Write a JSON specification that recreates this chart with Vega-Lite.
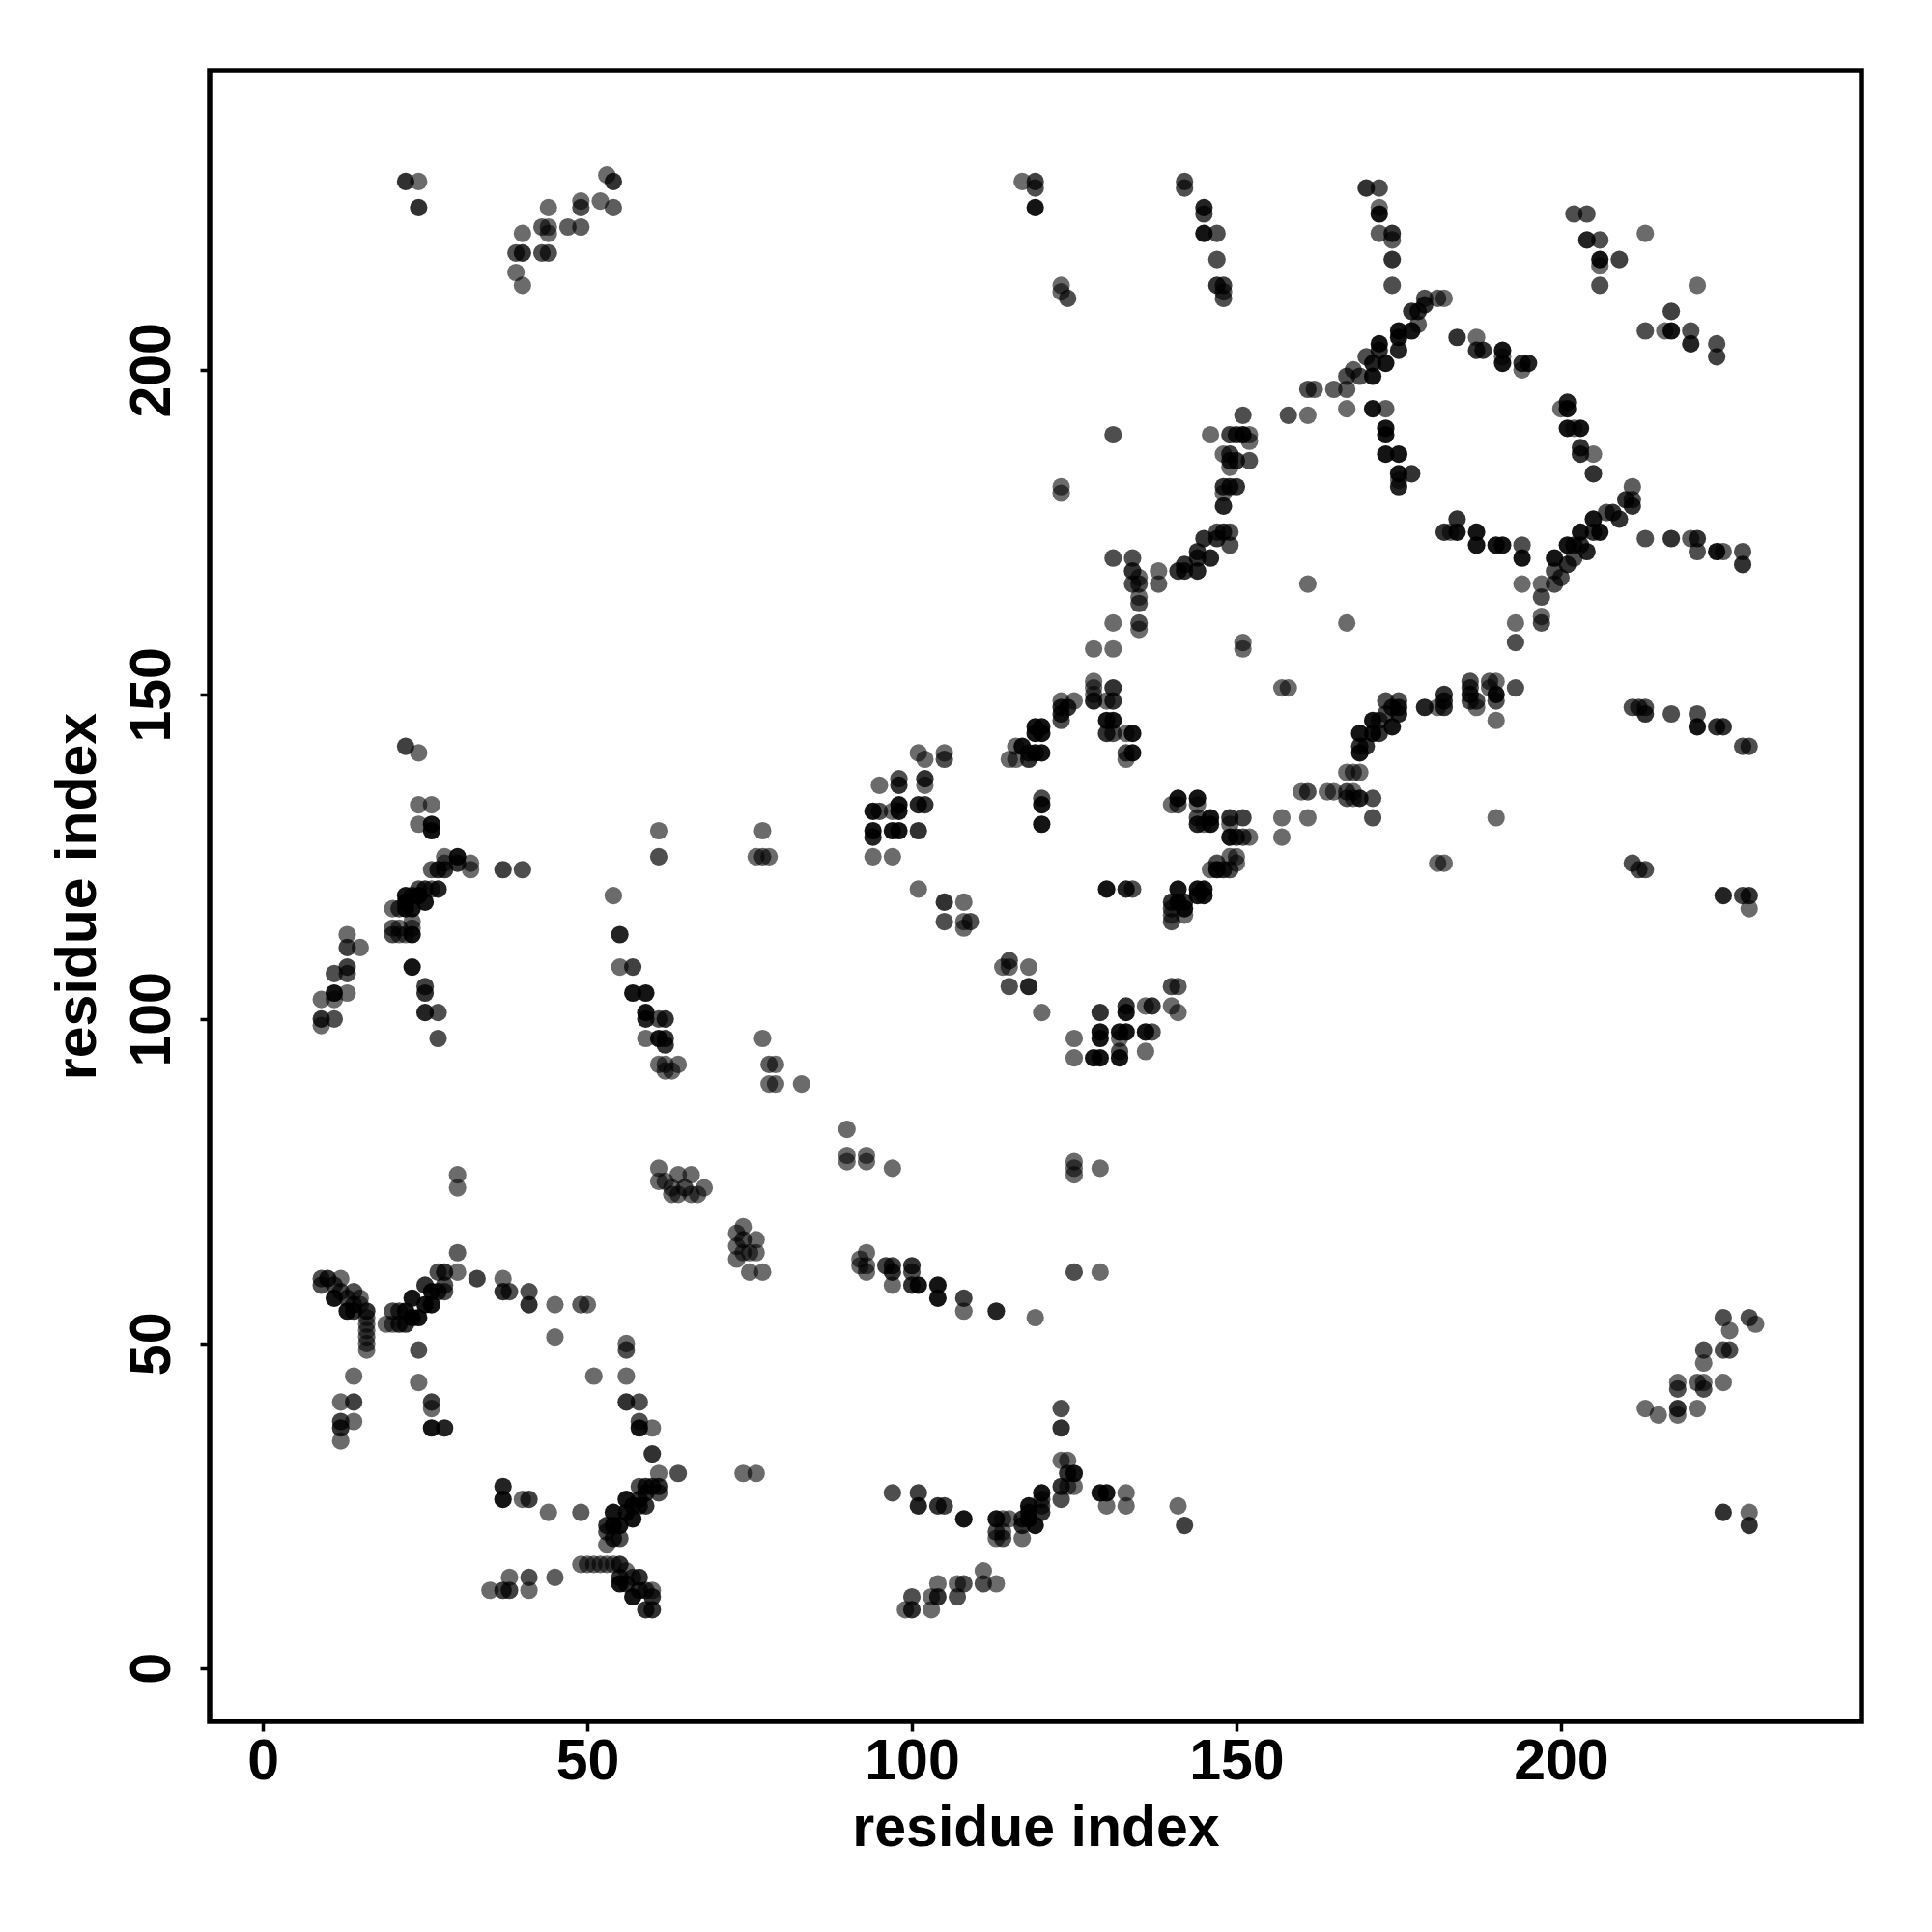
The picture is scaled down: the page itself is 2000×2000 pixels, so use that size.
{"$schema":"https://vega.github.io/schema/vega-lite/v6.json","width":1710,"height":1709,"autosize":"none","padding":{"left":217,"top":73,"right":73,"bottom":218},"background":"white",
"config":{"view":{"stroke":"black","strokeWidth":5.5},"font":"Liberation Sans"},
"data":{"values":[
{"i":30,"j":76,"n":1},{"i":30,"j":74,"n":1},{"i":30,"j":64,"n":1.5},{"i":30,"j":61,"n":1},{"i":33,"j":60,"n":2.5},{"i":37,"j":60,"n":1},{"i":37,"j":58,"n":3},{"i":38,"j":58,"n":2},{"i":41,"j":58,"n":2},{"i":41,"j":56,"n":3},{"i":45,"j":56,"n":1},{"i":49,"j":56,"n":1.5},{"i":50,"j":56,"n":1},{"i":45,"j":51,"n":1},{"i":56,"j":50,"n":1},{"i":56,"j":49,"n":2},{"i":51,"j":45,"n":1},{"i":56,"j":45,"n":1},{"i":56,"j":41,"n":3},{"i":58,"j":41,"n":2},{"i":58,"j":38,"n":2},{"i":58,"j":37,"n":4},{"i":60,"j":37,"n":1},{"i":60,"j":33,"n":3},{"i":61,"j":30,"n":1},{"i":64,"j":30,"n":2},{"i":74,"j":30,"n":1},{"i":76,"j":30,"n":1},
{"i":9,"j":60,"n":2},{"i":9,"j":59,"n":2},{"i":10,"j":60,"n":3},{"i":11,"j":59,"n":2},{"i":11,"j":57,"n":4},{"i":12,"j":60,"n":1},{"i":12,"j":58,"n":2},{"i":13,"j":57,"n":2},{"i":13,"j":55,"n":4},{"i":14,"j":58,"n":2},{"i":14,"j":56,"n":2},{"i":14,"j":55,"n":3},{"i":15,"j":56,"n":1},{"i":15,"j":57,"n":1},{"i":16,"j":55,"n":3},{"i":16,"j":54,"n":1},{"i":16,"j":53,"n":1},{"i":16,"j":52,"n":1},{"i":16,"j":51,"n":1},{"i":16,"j":50,"n":1},{"i":16,"j":49,"n":1},
{"i":19,"j":53,"n":1},{"i":20,"j":55,"n":2},{"i":20,"j":53,"n":1},{"i":21,"j":55,"n":2},{"i":21,"j":53,"n":3},{"i":22,"j":53,"n":3},{"i":22,"j":55,"n":4},{"i":23,"j":57,"n":4},{"i":23,"j":54,"n":4},{"i":24,"j":54,"n":4},{"i":25,"j":59,"n":3},{"i":25,"j":56,"n":4},{"i":26,"j":56,"n":4},{"i":26,"j":58,"n":4},{"i":27,"j":61,"n":2},{"i":27,"j":58,"n":3},{"i":28,"j":61,"n":3},{"i":28,"j":58,"n":2},{"i":28,"j":59,"n":2},
{"i":24,"j":49,"n":2},{"i":24,"j":44,"n":1},{"i":26,"j":41,"n":2.5},{"i":26,"j":40,"n":1},{"i":26,"j":37,"n":4},{"i":28,"j":37,"n":3.5},{"i":14,"j":45,"n":1},{"i":12,"j":41,"n":1},{"i":14,"j":41,"n":2.5},{"i":12,"j":38,"n":2.5},{"i":14,"j":38,"n":1},{"i":12,"j":37,"n":3},{"i":12,"j":35,"n":1},
{"i":61,"j":77,"n":1},{"i":61,"j":75,"n":1},{"i":64,"j":76,"n":1},{"i":66,"j":76,"n":1},{"i":63,"j":73,"n":1},{"i":64,"j":73,"n":1},{"i":65,"j":74,"n":2},{"i":66,"j":73,"n":1},{"i":67,"j":73,"n":1},{"i":68,"j":74,"n":1},{"i":62,"j":75,"n":1},{"i":63,"j":74,"n":1},
{"i":74,"j":68,"n":1},{"i":73,"j":67,"n":1},{"i":73,"j":65,"n":1},{"i":73,"j":63,"n":1},{"i":74,"j":66,"n":2},{"i":76,"j":66,"n":1},{"i":76,"j":64,"n":1},{"i":75,"j":64,"n":1},{"i":75,"j":61,"n":1},{"i":77,"j":61,"n":1},{"i":74,"j":64,"n":1},
{"i":37,"j":28,"n":3.5},{"i":37,"j":26,"n":4},{"i":40,"j":26,"n":1},{"i":41,"j":26,"n":2.5},{"i":44,"j":24,"n":1},{"i":49,"j":24,"n":1.5},
{"i":53,"j":19,"n":1},{"i":53,"j":21,"n":2},{"i":53,"j":22,"n":3},{"i":54,"j":20,"n":3},{"i":54,"j":24,"n":4},{"i":54,"j":22,"n":4},{"i":55,"j":20,"n":2},{"i":55,"j":22,"n":4},{"i":56,"j":26,"n":4},{"i":56,"j":24,"n":4},{"i":57,"j":23,"n":4},{"i":57,"j":25,"n":3},{"i":58,"j":28,"n":2},{"i":58,"j":26,"n":3},{"i":59,"j":28,"n":3},{"i":59,"j":25,"n":3},{"i":61,"j":28,"n":3},{"i":61,"j":27,"n":2},{"i":60,"j":28,"n":3},{"i":59,"j":27,"n":3},{"i":58,"j":25,"n":3},
{"i":49,"j":16,"n":1},{"i":50,"j":16,"n":1},{"i":51,"j":16,"n":1},{"i":52,"j":16,"n":1},{"i":53,"j":16,"n":1},{"i":54,"j":16,"n":1},{"i":55,"j":16,"n":3},{"i":55,"j":13,"n":4},{"i":56,"j":15,"n":1},{"i":57,"j":14,"n":2},{"i":57,"j":11,"n":4},{"i":58,"j":14,"n":3},{"i":58,"j":12,"n":3},{"i":59,"j":12,"n":2},{"i":59,"j":9,"n":3},{"i":60,"j":12,"n":1},{"i":60,"j":11,"n":3},{"i":60,"j":9,"n":3},{"i":55,"j":14,"n":3},{"i":56,"j":13,"n":3},
{"i":35,"j":12,"n":1},{"i":37,"j":12,"n":2.5},{"i":38,"j":14,"n":1},{"i":38,"j":12,"n":2.5},{"i":41,"j":14,"n":2},{"i":41,"j":12,"n":1},{"i":45,"j":14,"n":1.5},
{"i":90,"j":83,"n":1},{"i":90,"j":79,"n":1},{"i":90,"j":78,"n":1},{"i":93,"j":79,"n":1},{"i":93,"j":78,"n":1},{"i":97,"j":77,"n":1},{"i":125,"j":78,"n":1},{"i":125,"j":77,"n":1},{"i":125,"j":76,"n":1},{"i":129,"j":77,"n":1},
{"i":93,"j":64,"n":1},{"i":92,"j":63,"n":1},{"i":92,"j":62,"n":1},{"i":93,"j":62,"n":1},{"i":93,"j":61,"n":1},{"i":96,"j":62,"n":2.5},{"i":97,"j":62,"n":2.5},{"i":97,"j":61,"n":3},{"i":97,"j":59,"n":1},{"i":100,"j":62,"n":3},{"i":100,"j":61,"n":2},{"i":100,"j":59,"n":3},{"i":101,"j":59,"n":4},{"i":104,"j":59,"n":4},{"i":104,"j":57,"n":4},{"i":108,"j":57,"n":2.5},{"i":108,"j":55,"n":1},{"i":113,"j":55,"n":3.5},{"i":119,"j":54,"n":1},{"i":125,"j":61,"n":2},{"i":129,"j":61,"n":1},
{"i":123,"j":40,"n":2},{"i":123,"j":37,"n":3},{"i":123,"j":32,"n":1},{"i":124,"j":32,"n":1},{"i":125,"j":30,"n":4},{"i":124,"j":30,"n":3},{"i":123,"j":28,"n":3},{"i":124,"j":28,"n":1},{"i":125,"j":28,"n":1},{"i":123,"j":26,"n":2},{"i":120,"j":27,"n":4},{"i":120,"j":26,"n":2},{"i":120,"j":24,"n":3},{"i":120,"j":25,"n":2},{"i":118,"j":25,"n":4},{"i":118,"j":23,"n":4},{"i":119,"j":22,"n":4},{"i":117,"j":23,"n":3},{"i":117,"j":22,"n":3},{"i":117,"j":20,"n":1},{"i":118,"j":24,"n":3},{"i":113,"j":23,"n":4},{"i":113,"j":20,"n":1},{"i":113,"j":21,"n":2},{"i":114,"j":20,"n":2},{"i":114,"j":23,"n":1},{"i":115,"j":23,"n":1},{"i":114,"j":21,"n":1},
{"i":97,"j":27,"n":2},{"i":101,"j":27,"n":2.5},{"i":101,"j":25,"n":3.5},{"i":104,"j":25,"n":3},{"i":105,"j":25,"n":2.5},{"i":108,"j":23,"n":4},{"i":129,"j":27,"n":4},{"i":130,"j":27,"n":4},{"i":133,"j":27,"n":1},{"i":130,"j":25,"n":1},{"i":133,"j":25,"n":1},{"i":141,"j":25,"n":1},{"i":142,"j":22,"n":2.5},
{"i":111,"j":15,"n":1},{"i":111,"j":13,"n":2},{"i":113,"j":13,"n":1},{"i":107,"j":13,"n":1},{"i":108,"j":13,"n":2},{"i":107,"j":11,"n":2},{"i":104,"j":13,"n":1},{"i":104,"j":11,"n":3},{"i":103,"j":11,"n":1},{"i":103,"j":9,"n":1},{"i":100,"j":11,"n":2},{"i":100,"j":9,"n":3},{"i":99,"j":9,"n":1},
{"i":22,"j":142,"n":2.5},{"i":24,"j":141,"n":1},{"i":24,"j":133,"n":1},{"i":26,"j":133,"n":1},{"i":24,"j":130,"n":1},{"i":26,"j":130,"n":4},{"i":26,"j":129,"n":4},{"i":28,"j":125,"n":1},{"i":30,"j":125,"n":4},{"i":32,"j":124,"n":1},{"i":32,"j":123,"n":1},{"i":30,"j":124,"n":3},{"i":28,"j":124,"n":1},{"i":26,"j":123,"n":1.5},{"i":27,"j":123,"n":3},{"i":28,"j":123,"n":3},{"i":37,"j":123,"n":2.5},{"i":40,"j":123,"n":2},
{"i":27,"j":120,"n":3.5},{"i":26,"j":120,"n":1.5},{"i":25,"j":120,"n":3},{"i":24,"j":120,"n":2},{"i":25,"j":118,"n":4},{"i":24,"j":119,"n":4},{"i":23,"j":119,"n":3},{"i":22,"j":119,"n":4},{"i":22,"j":118,"n":4},{"i":22,"j":117,"n":4},{"i":23,"j":117,"n":4},{"i":20,"j":117,"n":1},{"i":21,"j":117,"n":2},{"i":20,"j":114,"n":1.5},{"i":20,"j":113,"n":2},{"i":21,"j":113,"n":1},{"i":21,"j":114,"n":1},{"i":23,"j":115,"n":1},{"i":23,"j":114,"n":1},{"i":23,"j":113,"n":4},{"i":22,"j":113,"n":1},
{"i":13,"j":113,"n":1},{"i":13,"j":111,"n":2.5},{"i":15,"j":111,"n":1},{"i":13,"j":108,"n":2.5},{"i":13,"j":107,"n":2},{"i":11,"j":107,"n":2},{"i":11,"j":104,"n":4},{"i":13,"j":104,"n":1},{"i":9,"j":103,"n":1},{"i":11,"j":103,"n":1},{"i":9,"j":100,"n":3},{"i":11,"j":100,"n":2},{"i":9,"j":99,"n":1},
{"i":23,"j":108,"n":4},{"i":25,"j":105,"n":2.5},{"i":25,"j":104,"n":3},{"i":25,"j":101,"n":3.5},{"i":27,"j":101,"n":2},{"i":27,"j":97,"n":2},
{"i":54,"j":119,"n":1},{"i":55,"j":113,"n":3.5},{"i":55,"j":108,"n":1},{"i":57,"j":108,"n":2.5},{"i":57,"j":104,"n":4},{"i":59,"j":104,"n":4},{"i":59,"j":101,"n":4},{"i":59,"j":100,"n":3.5},{"i":61,"j":100,"n":2},{"i":62,"j":100,"n":3},{"i":59,"j":97,"n":1},{"i":61,"j":97,"n":4},{"i":62,"j":97,"n":3},{"i":62,"j":96,"n":3},{"i":61,"j":93,"n":1},{"i":62,"j":93,"n":1},{"i":64,"j":93,"n":1},{"i":62,"j":92,"n":1},{"i":63,"j":92,"n":1},
{"i":61,"j":129,"n":1},{"i":61,"j":125,"n":2},{"i":77,"j":129,"n":1},{"i":76,"j":125,"n":1},{"i":77,"j":125,"n":1.5},{"i":78,"j":125,"n":1},{"i":77,"j":97,"n":1},{"i":78,"j":93,"n":1.5},{"i":79,"j":93,"n":1},{"i":78,"j":90,"n":1},{"i":79,"j":90,"n":1},{"i":83,"j":90,"n":1},
{"i":101,"j":141,"n":1},{"i":102,"j":140,"n":1},{"i":105,"j":141,"n":1},{"i":105,"j":140,"n":2},{"i":95,"j":136,"n":1},{"i":98,"j":137,"n":2},{"i":98,"j":136,"n":3},{"i":102,"j":137,"n":3},{"i":102,"j":136,"n":1},{"i":94,"j":132,"n":4},{"i":95,"j":132,"n":2},{"i":97,"j":132,"n":1},{"i":98,"j":133,"n":4},{"i":98,"j":132,"n":4},{"i":101,"j":133,"n":3.5},{"i":102,"j":133,"n":3},{"i":94,"j":129,"n":4},{"i":94,"j":128,"n":3.5},{"i":97,"j":129,"n":4},{"i":98,"j":129,"n":4},{"i":101,"j":129,"n":3},{"i":94,"j":125,"n":1},{"i":97,"j":125,"n":1},
{"i":101,"j":120,"n":1},{"i":105,"j":118,"n":3},{"i":108,"j":118,"n":1},{"i":105,"j":115,"n":2},{"i":108,"j":115,"n":1},{"i":109,"j":115,"n":2},{"i":108,"j":114,"n":1},{"i":115,"j":109,"n":2},{"i":114,"j":108,"n":1},{"i":115,"j":108,"n":1},{"i":118,"j":108,"n":1},{"i":115,"j":105,"n":2},{"i":118,"j":105,"n":3.5},{"i":120,"j":101,"n":1},{"i":120,"j":134,"n":2},{"i":120,"j":133,"n":4},{"i":120,"j":130,"n":4},
{"i":115,"j":140,"n":1},{"i":116,"j":142,"n":1},{"i":116,"j":140,"n":1},{"i":117,"j":142,"n":4},{"i":118,"j":140,"n":3},{"i":119,"j":145,"n":4},{"i":120,"j":145,"n":4},{"i":119,"j":144,"n":4},{"i":120,"j":144,"n":4},{"i":119,"j":141,"n":4},{"i":120,"j":141,"n":4},{"i":118,"j":141,"n":3},{"i":123,"j":146,"n":2},{"i":123,"j":147,"n":3},{"i":123,"j":148,"n":3},{"i":124,"j":148,"n":3},{"i":125,"j":149,"n":1},{"i":123,"j":149,"n":1},{"i":128,"j":149,"n":3.5},{"i":131,"j":149,"n":3},{"i":130,"j":149,"n":1},{"i":128,"j":150,"n":1},{"i":128,"j":151,"n":1},{"i":128,"j":152,"n":1},{"i":131,"j":151,"n":3},{"i":128,"j":157,"n":1},{"i":131,"j":157,"n":1},{"i":131,"j":161,"n":1},
{"i":130,"j":146,"n":4},{"i":131,"j":146,"n":4},{"i":130,"j":144,"n":3},{"i":131,"j":144,"n":2},{"i":133,"j":144,"n":1},{"i":134,"j":144,"n":4},{"i":133,"j":141,"n":2},{"i":134,"j":141,"n":4},{"i":133,"j":140,"n":1},{"i":130,"j":120,"n":4},{"i":133,"j":120,"n":3.5},{"i":134,"j":120,"n":2},
{"i":141,"j":134,"n":4},{"i":140,"j":133,"n":1},{"i":141,"j":133,"n":2},{"i":144,"j":134,"n":4},{"i":144,"j":133,"n":1},{"i":144,"j":131,"n":2},{"i":144,"j":130,"n":3.5},{"i":145,"j":130,"n":1},{"i":146,"j":131,"n":4},{"i":146,"j":130,"n":4},{"i":149,"j":131,"n":3},{"i":151,"j":131,"n":2.5},{"i":149,"j":130,"n":1},{"i":149,"j":128,"n":4},{"i":150,"j":128,"n":3},{"i":151,"j":128,"n":2},{"i":152,"j":128,"n":1},{"i":150,"j":125,"n":1},{"i":149,"j":125,"n":1},{"i":150,"j":124,"n":1},{"i":149,"j":123,"n":2},{"i":148,"j":123,"n":3},{"i":147,"j":124,"n":2},{"i":147,"j":123,"n":4},{"i":146,"j":123,"n":1},
{"i":141,"j":120,"n":4},{"i":144,"j":120,"n":4},{"i":145,"j":120,"n":4},{"i":144,"j":119,"n":4},{"i":145,"j":119,"n":4},{"i":140,"j":118,"n":3},{"i":141,"j":118,"n":4},{"i":142,"j":118,"n":3},{"i":142,"j":117,"n":4},{"i":140,"j":117,"n":2},{"i":142,"j":116,"n":1},{"i":140,"j":116,"n":1},{"i":140,"j":115,"n":2},
{"i":157,"j":131,"n":1},{"i":161,"j":131,"n":1},{"i":157,"j":128,"n":1},{"i":160,"j":135,"n":1},{"i":161,"j":135,"n":2},{"i":164,"j":135,"n":1},{"i":165,"j":135,"n":1},{"i":167,"j":135,"n":2},{"i":168,"j":135,"n":1},{"i":167,"j":134,"n":2},{"i":168,"j":134,"n":1},{"i":169,"j":134,"n":3.5},{"i":171,"j":134,"n":2},{"i":171,"j":131,"n":2},{"i":167,"j":138,"n":1},{"i":168,"j":138,"n":1},{"i":169,"j":138,"n":1},
{"i":140,"j":105,"n":2},{"i":141,"j":105,"n":1.5},{"i":140,"j":102,"n":1},{"i":141,"j":101,"n":1},{"i":137,"j":102,"n":3},{"i":136,"j":102,"n":1},{"i":133,"j":102,"n":3},{"i":133,"j":101,"n":4},{"i":129,"j":101,"n":3},{"i":129,"j":98,"n":4},{"i":129,"j":97,"n":4},{"i":132,"j":98,"n":4},{"i":133,"j":98,"n":4},{"i":132,"j":97,"n":1},{"i":136,"j":98,"n":4},{"i":137,"j":98,"n":2},{"i":125,"j":97,"n":1},{"i":125,"j":94,"n":1},{"i":128,"j":94,"n":4},{"i":129,"j":94,"n":4},{"i":132,"j":95,"n":2},{"i":132,"j":94,"n":4},{"i":136,"j":95,"n":1},
{"i":151,"j":193,"n":2},{"i":158,"j":193,"n":2},{"i":161,"j":193,"n":1},{"i":161,"j":197,"n":2},{"i":162,"j":197,"n":1.5},{"i":165,"j":197,"n":1.5},{"i":167,"j":197,"n":1.5},{"i":167,"j":194,"n":1},{"i":171,"j":194,"n":4},{"i":173,"j":194,"n":1.5},{"i":173,"j":191,"n":4},{"i":173,"j":190,"n":4},{"i":173,"j":187,"n":4},{"i":175,"j":187,"n":4},{"i":175,"j":184,"n":4},{"i":177,"j":184,"n":3},{"i":175,"j":183,"n":1},{"i":175,"j":182,"n":3.5},
{"i":131,"j":190,"n":2},{"i":146,"j":190,"n":1},{"i":149,"j":190,"n":2.5},{"i":150,"j":190,"n":3},{"i":151,"j":190,"n":4},{"i":152,"j":190,"n":1},{"i":152,"j":189,"n":1},{"i":148,"j":187,"n":1},{"i":149,"j":187,"n":2.5},{"i":149,"j":186,"n":3},{"i":150,"j":186,"n":3},{"i":152,"j":186,"n":2},{"i":149,"j":185,"n":1},{"i":148,"j":182,"n":3},{"i":149,"j":182,"n":3},{"i":150,"j":182,"n":3},{"i":148,"j":181,"n":1},{"i":148,"j":179,"n":3.5},
{"i":147,"j":175,"n":2},{"i":148,"j":175,"n":3},{"i":149,"j":175,"n":2},{"i":149,"j":173,"n":2},{"i":147,"j":174,"n":3},{"i":145,"j":174,"n":3},{"i":146,"j":171,"n":3.5},{"i":144,"j":172,"n":3},{"i":144,"j":171,"n":3},{"i":142,"j":170,"n":3},{"i":144,"j":169,"n":3.5},{"i":142,"j":169,"n":3},{"i":141,"j":169,"n":3},
{"i":134,"j":171,"n":2},{"i":134,"j":169,"n":3},{"i":135,"j":168,"n":1},{"i":134,"j":167,"n":2},{"i":135,"j":167,"n":2},{"i":135,"j":165,"n":1},{"i":135,"j":164,"n":2},{"i":135,"j":161,"n":2},{"i":135,"j":160,"n":1},{"i":138,"j":169,"n":1},{"i":138,"j":167,"n":1.5},{"i":131,"j":171,"n":2},{"i":151,"j":158,"n":1},{"i":151,"j":157,"n":1},{"i":161,"j":167,"n":1},{"i":167,"j":161,"n":1},{"i":123,"j":182,"n":1},{"i":123,"j":181,"n":1},
{"i":194,"j":167,"n":1},{"i":197,"j":167,"n":1},{"i":197,"j":165,"n":2},{"i":193,"j":161,"n":1},{"i":197,"j":162,"n":1},{"i":197,"j":161,"n":2},{"i":193,"j":158,"n":2},{"i":199,"j":167,"n":2},{"i":199,"j":171,"n":4},{"i":199,"j":169,"n":2},{"i":200,"j":168,"n":2},{"i":201,"j":173,"n":4},{"i":201,"j":170,"n":3},{"i":202,"j":171,"n":2},{"i":203,"j":175,"n":4},{"i":204,"j":172,"n":3.5},{"i":205,"j":177,"n":4},{"i":206,"j":175,"n":4},{"i":207,"j":178,"n":2},{"i":208,"j":178,"n":3},{"i":209,"j":177,"n":3},{"i":210,"j":180,"n":3},{"i":211,"j":179,"n":3},{"i":211,"j":182,"n":1.5},{"i":211,"j":180,"n":2},{"i":203,"j":173,"n":3},{"i":202,"j":173,"n":3},{"i":205,"j":175,"n":3},
{"i":201,"j":195,"n":3.5},{"i":201,"j":194,"n":4},{"i":200,"j":194,"n":1},{"i":201,"j":191,"n":4},{"i":202,"j":191,"n":1},{"i":203,"j":191,"n":4},{"i":203,"j":188,"n":3},{"i":203,"j":187,"n":3},{"i":205,"j":187,"n":1},{"i":205,"j":184,"n":3},
{"i":182,"j":175,"n":3},{"i":183,"j":175,"n":1},{"i":184,"j":177,"n":3},{"i":184,"j":175,"n":4},{"i":187,"j":175,"n":4},{"i":187,"j":173,"n":4},{"i":190,"j":173,"n":4},{"i":191,"j":173,"n":4},{"i":194,"j":173,"n":2},{"i":194,"j":171,"n":4},{"i":213,"j":174,"n":2},{"i":217,"j":174,"n":3},{"i":220,"j":174,"n":1.5},{"i":221,"j":174,"n":3},{"i":221,"j":172,"n":2},{"i":224,"j":172,"n":4},{"i":225,"j":172,"n":1.5},{"i":228,"j":172,"n":2},{"i":228,"j":170,"n":3},
{"i":157,"j":151,"n":1},{"i":158,"j":151,"n":1},{"i":186,"j":152,"n":2},{"i":186,"j":151,"n":2},{"i":186,"j":150,"n":3},{"i":186,"j":149,"n":2},{"i":187,"j":149,"n":2},{"i":187,"j":148,"n":1},{"i":189,"j":152,"n":1.5},{"i":190,"j":152,"n":1},{"i":190,"j":150,"n":4},{"i":190,"j":149,"n":2},{"i":189,"j":151,"n":1},{"i":193,"j":151,"n":2},{"i":190,"j":146,"n":1},{"i":182,"j":150,"n":3},{"i":182,"j":149,"n":3},{"i":182,"j":148,"n":3},{"i":179,"j":148,"n":3.5},{"i":181,"j":148,"n":1},
{"i":173,"j":149,"n":2},{"i":175,"j":149,"n":2},{"i":175,"j":148,"n":3},{"i":174,"j":148,"n":3},{"i":173,"j":147,"n":2},{"i":175,"j":147,"n":3.5},{"i":174,"j":145,"n":4},{"i":172,"j":146,"n":2},{"i":171,"j":146,"n":4},{"i":171,"j":144,"n":4},{"i":172,"j":144,"n":3},{"i":169,"j":144,"n":4},{"i":169,"j":142,"n":3},{"i":170,"j":142,"n":3},{"i":169,"j":141,"n":4},
{"i":211,"j":148,"n":2},{"i":212,"j":148,"n":2},{"i":213,"j":148,"n":2},{"i":213,"j":147,"n":3},{"i":217,"j":147,"n":2},{"i":221,"j":147,"n":2},{"i":221,"j":145,"n":4},{"i":224,"j":145,"n":3},{"i":225,"j":145,"n":3},{"i":228,"j":142,"n":2},{"i":229,"j":142,"n":2},{"i":190,"j":131,"n":1},{"i":181,"j":124,"n":1},{"i":182,"j":124,"n":1},{"i":211,"j":124,"n":2},{"i":212,"j":123,"n":2},{"i":213,"j":123,"n":2},{"i":225,"j":119,"n":3.5},{"i":228,"j":119,"n":2.5},{"i":229,"j":119,"n":3},{"i":229,"j":117,"n":1},
{"i":213,"j":40,"n":1},{"i":215,"j":39,"n":1},{"i":218,"j":39,"n":1},{"i":218,"j":43,"n":2},{"i":218,"j":44,"n":1},{"i":218,"j":40,"n":3},{"i":221,"j":40,"n":1},{"i":221,"j":44,"n":1.5},{"i":222,"j":44,"n":1},{"i":222,"j":43,"n":2},{"i":222,"j":47,"n":1},{"i":222,"j":49,"n":2},{"i":225,"j":44,"n":1},{"i":225,"j":49,"n":2},{"i":226,"j":49,"n":2},{"i":226,"j":52,"n":1},{"i":225,"j":54,"n":2},{"i":229,"j":54,"n":2},{"i":230,"j":53,"n":1},{"i":225,"j":24,"n":3},{"i":229,"j":24,"n":1},{"i":229,"j":22,"n":3},
{"i":22,"j":229,"n":3},{"i":24,"j":229,"n":1},{"i":24,"j":225,"n":3},{"i":39,"j":215,"n":1},{"i":40,"j":213,"n":1},{"i":39,"j":218,"n":2},{"i":40,"j":218,"n":3},{"i":40,"j":221,"n":1},{"i":43,"j":218,"n":2},{"i":44,"j":218,"n":2},{"i":43,"j":222,"n":1.5},{"i":44,"j":221,"n":1},{"i":44,"j":222,"n":1},{"i":44,"j":225,"n":1},{"i":47,"j":222,"n":1.5},{"i":49,"j":222,"n":1.5},{"i":49,"j":225,"n":2},{"i":49,"j":226,"n":1},{"i":52,"j":226,"n":1},{"i":53,"j":230,"n":1},{"i":54,"j":229,"n":3},{"i":54,"j":225,"n":1.5},
{"i":117,"j":229,"n":1},{"i":119,"j":229,"n":2.5},{"i":119,"j":228,"n":2},{"i":119,"j":225,"n":4},{"i":123,"j":213,"n":1},{"i":123,"j":212,"n":1},{"i":124,"j":211,"n":2},{"i":142,"j":229,"n":2},{"i":142,"j":228,"n":2},{"i":145,"j":225,"n":3.5},{"i":145,"j":224,"n":2.5},{"i":145,"j":221,"n":4},{"i":147,"j":221,"n":2},{"i":147,"j":217,"n":2},{"i":147,"j":213,"n":3},{"i":148,"j":213,"n":2.5},{"i":148,"j":212,"n":1.5},{"i":148,"j":211,"n":2},
{"i":170,"j":228,"n":3},{"i":172,"j":228,"n":2},{"i":172,"j":225,"n":1},{"i":172,"j":224,"n":4},{"i":172,"j":221,"n":1.5},{"i":174,"j":221,"n":3},{"i":174,"j":220,"n":1.5},{"i":174,"j":217,"n":3},{"i":174,"j":213,"n":2},
{"i":202,"j":224,"n":2},{"i":204,"j":224,"n":2},{"i":204,"j":220,"n":3.5},{"i":206,"j":220,"n":2},{"i":206,"j":217,"n":4},{"i":206,"j":216,"n":1},{"i":209,"j":217,"n":2.5},{"i":206,"j":213,"n":2},{"i":213,"j":221,"n":1},{"i":221,"j":213,"n":1},{"i":217,"j":209,"n":2.5},{"i":213,"j":206,"n":2},{"i":216,"j":206,"n":1},{"i":217,"j":206,"n":4},{"i":220,"j":206,"n":2},{"i":220,"j":204,"n":3.5},{"i":224,"j":204,"n":2},{"i":224,"j":202,"n":2.5},
{"i":182,"j":211,"n":1},{"i":181,"j":211,"n":1.5},{"i":179,"j":211,"n":2},{"i":179,"j":210,"n":3},{"i":178,"j":209,"n":3},{"i":177,"j":209,"n":3},{"i":178,"j":207,"n":1.5},{"i":177,"j":206,"n":4},{"i":175,"j":206,"n":4},{"i":175,"j":205,"n":4},{"i":175,"j":203,"n":3.5},{"i":172,"j":204,"n":4},{"i":173,"j":201,"n":4},{"i":172,"j":203,"n":3},{"i":171,"j":201,"n":3.5},{"i":170,"j":202,"n":2},{"i":171,"j":199,"n":4},{"i":168,"j":200,"n":1.5},{"i":167,"j":199,"n":2},{"i":169,"j":199,"n":2},
{"i":184,"j":205,"n":3},{"i":187,"j":205,"n":1},{"i":187,"j":203,"n":3},{"i":188,"j":203,"n":3},{"i":191,"j":203,"n":4},{"i":191,"j":201,"n":4},{"i":191,"j":202,"n":1},{"i":194,"j":201,"n":3},{"i":195,"j":201,"n":3.5},{"i":194,"j":200,"n":1}
]},
"mark":{"type":"circle","size":330,"color":"black"},
"encoding":{
"x":{"field":"i","type":"quantitative","scale":{"domain":[-8.2,246.3],"nice":false,"zero":false},"axis":{"title":"residue index","values":[0,50,100,150,200],"grid":false,"domain":false,"tickColor":"black","tickSize":10,"tickWidth":3.5,"labelFont":"Liberation Sans","labelFontWeight":"bold","labelFontSize":59,"labelColor":"black","labelPadding":2,"labelFlush":false,"titleFont":"Liberation Sans","titleFontWeight":"bold","titleFontSize":59,"titleColor":"black","titlePadding":10}},
"y":{"field":"j","type":"quantitative","scale":{"domain":[-8.2,246.1],"nice":false,"zero":false},"axis":{"title":"residue index","values":[0,50,100,150,200],"grid":false,"domain":false,"tickColor":"black","tickSize":10,"tickWidth":3.5,"labelFont":"Liberation Sans","labelFontWeight":"bold","labelFontSize":59,"labelColor":"black","labelAngle":-90,"labelAlign":"center","labelBaseline":"bottom","labelPadding":20,"labelFlush":false,"titleFont":"Liberation Sans","titleFontWeight":"bold","titleFontSize":59,"titleColor":"black","titlePadding":18}},
"opacity":{"field":"n","type":"quantitative","scale":{"domain":[1,4],"range":[0.58,0.92]},"legend":null}
}}
